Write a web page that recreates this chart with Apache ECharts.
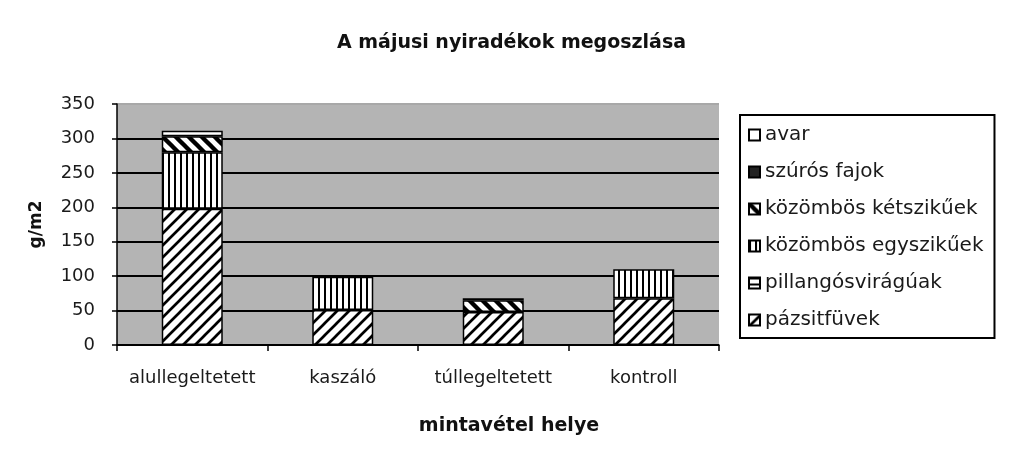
<!DOCTYPE html>
<html>
<head>
<meta charset="utf-8">
<script src="https://cdn.jsdelivr.net/npm/echarts@6/dist/echarts.min.js"></script>
<style>
html,body{margin:0;padding:0;background:#fff;}
#chart{width:1023px;height:453px;}
</style>
</head>
<body>
<div id="chart"></div>
<script>
const categories = ['alullegeltetett', 'kaszáló', 'túllegeltetett', 'kontroll'];
const pazsitfuvek = [198, 51, 48, 68];
const pillangosviraguak = [null, null, null, null];
const egyszikuek = [82, 48, null, 42];
const ketszikuek = [23, null, 17, null];
const szurosFajok = [null, null, 3, null];
const avar = [8, null, null, null];
const yTicks = { min: 0, max: 350, interval: 50 };

function makePattern(kind) {
  const c = document.createElement('canvas');
  let s;
  const ctx0 = () => c.getContext('2d');
  if (kind === 'fwd') {
    s = 12; c.width = s; c.height = s;
    const ctx = ctx0();
    ctx.fillStyle = '#fff'; ctx.fillRect(0, 0, s, s);
    ctx.strokeStyle = '#000'; ctx.lineWidth = 2.7; ctx.lineCap = 'square';
    for (const k of [-s, 0, s]) { ctx.beginPath(); ctx.moveTo(k - 3, s + 3); ctx.lineTo(k + s + 3, -3); ctx.stroke(); }
  } else if (kind === 'back') {
    s = 13; c.width = s; c.height = s;
    const ctx = ctx0();
    ctx.fillStyle = '#fff'; ctx.fillRect(0, 0, s, s);
    ctx.strokeStyle = '#000'; ctx.lineWidth = 4.4; ctx.lineCap = 'square';
    for (const k of [-s, 0, s]) { ctx.beginPath(); ctx.moveTo(k - 3, -3); ctx.lineTo(k + s + 3, s + 3); ctx.stroke(); }
  } else if (kind === 'vert') {
    c.width = 6; c.height = 6;
    const ctx = ctx0();
    ctx.fillStyle = '#fff'; ctx.fillRect(0, 0, 6, 6);
    ctx.fillStyle = '#000'; ctx.fillRect(0, 0, 2, 6);
  } else if (kind === 'horiz') {
    c.width = 6; c.height = 6;
    const ctx = ctx0();
    ctx.fillStyle = '#fff'; ctx.fillRect(0, 0, 6, 6);
    ctx.fillStyle = '#000'; ctx.fillRect(0, 0, 6, 2);
  }
  return { image: c, repeat: 'repeat' };
}

const border = { borderColor: '#000', borderWidth: 1.5 };
function bar(name, data, color) {
  return {
    name: name, type: 'bar', stack: 'total', data: data,
    barWidth: 61,
    itemStyle: Object.assign({ color: color }, border)
  };
}

const chart = echarts.init(document.getElementById('chart'), null, { renderer: 'canvas' });
chart.setOption({
  backgroundColor: '#ffffff',
  animation: false,
  title: {
    text: 'A májusi nyiradékok megoszlása',
    left: 'center', top: 29,
    textStyle: { fontFamily: 'DejaVu Sans', fontWeight: 'bold', fontSize: 19, color: '#111' }
  },
  grid: {
    left: 117, right: 304, top: 104, bottom: 108,
    show: true, backgroundColor: '#b4b4b4', borderWidth: 0
  },
  legend: {
    orient: 'vertical', left: 740, top: 115,
    data: ['avar', 'szúrós fajok', 'közömbös kétszikűek', 'közömbös egyszikűek', 'pillangósvirágúak', 'pázsitfüvek'],
    icon: 'rect', itemWidth: 11, itemHeight: 11, itemGap: 17,
    padding: [10, 11, 8, 8],
    borderColor: '#000', borderWidth: 2, backgroundColor: '#fff',
    textStyle: { fontFamily: 'DejaVu Sans', fontSize: 20, color: '#1a1a1a', lineHeight: 20 }
  },
  xAxis: {
    type: 'category', data: categories,
    name: 'mintavétel helye', nameLocation: 'middle', nameGap: 72,
    nameTextStyle: { fontFamily: 'DejaVu Sans', fontWeight: 'bold', fontSize: 19, color: '#111', padding: [0, 0, 0, 182] },
    axisLine: { lineStyle: { color: '#000', width: 1.5 } },
    axisTick: { show: true, length: 6, lineStyle: { color: '#000', width: 1.5 } },
    axisLabel: { interval: 0, fontFamily: 'DejaVu Sans', fontSize: 18, color: '#1a1a1a', margin: 24 }
  },
  yAxis: {
    type: 'value', min: yTicks.min, max: yTicks.max, interval: yTicks.interval,
    name: 'g/m2', nameLocation: 'middle', nameGap: 72, nameRotate: 90,
    nameTextStyle: { fontFamily: 'DejaVu Sans', fontWeight: 'bold', fontSize: 17, color: '#111' },
    axisLine: { show: true, lineStyle: { color: '#000', width: 1.5 } },
    axisTick: { show: true, length: 5, lineStyle: { color: '#000', width: 1.5 } },
    axisLabel: { fontFamily: 'DejaVu Sans', fontSize: 18, color: '#1a1a1a', margin: 22 },
    splitLine: { show: true, lineStyle: { color: ['#000', '#000', '#000', '#000', '#000', '#000', '#000', '#a8a8a8'], width: 2 } }
  },
  series: [
    bar('pázsitfüvek', pazsitfuvek, makePattern('fwd')),
    bar('pillangósvirágúak', pillangosviraguak, makePattern('horiz')),
    bar('közömbös egyszikűek', egyszikuek, makePattern('vert')),
    bar('közömbös kétszikűek', ketszikuek, makePattern('back')),
    bar('szúrós fajok', szurosFajok, '#222'),
    bar('avar', avar, '#ffffff')
  ]
});
</script>
</body>
</html>
